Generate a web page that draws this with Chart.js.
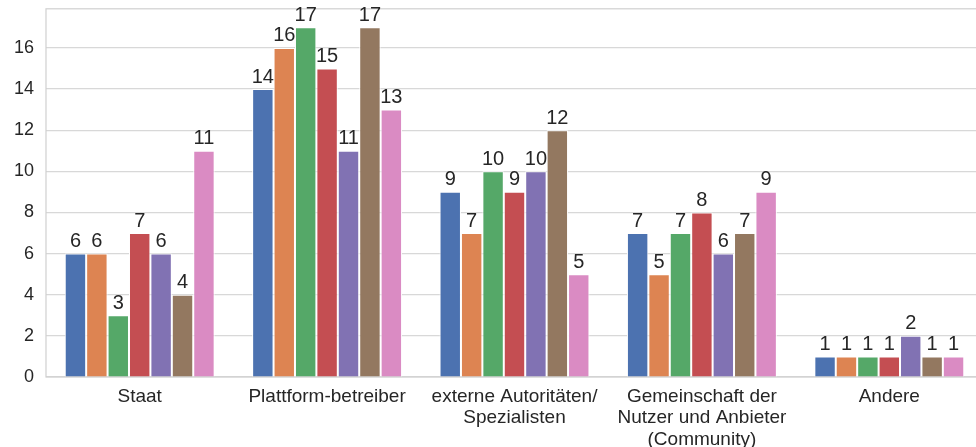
<!DOCTYPE html>
<html><head><meta charset="utf-8">
<script src="https://cdn.jsdelivr.net/npm/chart.js@4"></script>
<style>html,body{margin:0;padding:0;background:#fff;overflow:hidden;width:976px;height:447px}#wrap{position:absolute;left:0;top:-14px;width:990px;height:461px}</style>
</head><body><div id="wrap"><canvas id="c" width="990" height="461"></canvas></div>
<script>
const categories = ["Staat", "Plattform-betreiber", ["externe Autoritäten/", "Spezialisten"], ["Gemeinschaft der", "Nutzer und Anbieter", "(Community)"], "Andere"];
const s1 = [6, 14, 9, 7, 1];
const s2 = [6, 16, 7, 5, 1];
const s3 = [3, 17, 10, 7, 1];
const s4 = [7, 15, 9, 8, 1];
const s5 = [6, 11, 10, 6, 2];
const s6 = [4, 17, 12, 7, 1];
const s7 = [11, 13, 5, 9, 1];
const yTicks = [0, 2, 4, 6, 8, 10, 12, 14, 16];
const colors = ["#4C72B0", "#DD8452", "#55A868", "#C44E52", "#8172B3", "#937860", "#DA8BC3"];
const series = [s1, s2, s3, s4, s5, s6, s7];
const FONT = '"Liberation Sans", Arial, sans-serif';

const labelPlugin = {
  id: 'vals',
  afterDatasetsDraw(chart) {
    const ctx = chart.ctx;
    ctx.save();
    ctx.fillStyle = '#262626';
    ctx.font = '20px ' + FONT;
    ctx.textAlign = 'center';
    ctx.textBaseline = 'bottom';
    chart.data.datasets.forEach((ds, i) => {
      chart.getDatasetMeta(i).data.forEach((bar, j) => {
        ctx.fillText(String(ds.data[j]), bar.x, bar.y - 2);
      });
    });
    ctx.restore();
  },
  beforeDatasetsDraw(chart) {
    const a = chart.chartArea, ctx = chart.ctx;
    ctx.save();
    ctx.strokeStyle = '#d0d0d0';
    ctx.lineWidth = 1.2;
    ctx.strokeRect(a.left, a.top, a.right - a.left, a.bottom - a.top);
    ctx.restore();
  }
};

new Chart(document.getElementById('c'), {
  type: 'bar',
  data: {
    labels: categories,
    datasets: series.map((d, i) => ({
      data: d,
      backgroundColor: colors[i],
      borderColor: '#ffffff',
      borderWidth: 1,
      categoryPercentage: 0.8,
      barPercentage: 1.0
    }))
  },
  options: {
    responsive: false,
    animation: false,
    layout: { padding: { top: 0, right: 7, left: 0, bottom: 0 } },
    plugins: { legend: { display: false }, tooltip: { enabled: false } },
    scales: {
      x: {
        grid: { display: false },
        border: { display: false },
        ticks: { color: '#262626', font: { size: 19, family: FONT, lineHeight: 1.13 }, maxRotation: 0, autoSkip: false, padding: 1 },
        afterFit(s) { s.height = 70; }
      },
      y: {
        min: 0, max: 17.9,
        grid: { color: '#d8d8d8', lineWidth: 1.2, drawTicks: false },
        border: { display: false },
        afterBuildTicks(s) { s.ticks = yTicks.map(v => ({ value: v })); },
        ticks: { color: '#262626', font: { size: 18, family: FONT }, padding: 12 },
        afterFit(s) { s.width = 46; }
      }
    }
  },
  plugins: [labelPlugin]
});
</script></body></html>
